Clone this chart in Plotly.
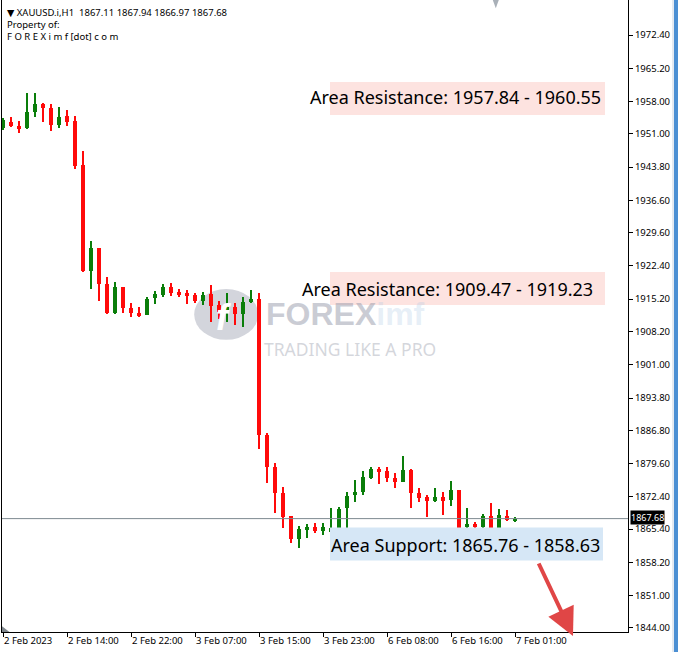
import plotly.graph_objects as go

# ---------------- data ----------------
bar_index = list(range(65))
opens = [1952.26, 1953.56, 1952.70, 1952.26, 1955.73, 1957.46, 1956.59, 1952.91, 1954.86, 1953.78,
         1944.25, 1921.30, 1926.28, 1918.48, 1912.20, 1917.83, 1913.29, 1912.20, 1911.77, 1915.45,
         1916.10, 1917.83, 1916.75, 1916.53, 1916.10, 1914.80, 1916.32, 1913.94, 1912.42, 1913.50,
         1911.99, 1914.59, 1915.24, 1885.79, 1878.86, 1873.23, 1868.25, 1863.26, 1865.43, 1865.86,
         1864.99, 1864.78, 1865.43, 1869.98, 1872.79, 1873.44, 1876.47, 1878.42, 1877.99, 1876.47,
         1875.61, 1878.21, 1873.23, 1872.37, 1871.50, 1872.37, 1871.72, 1873.88, 1865.86, 1866.51,
         1865.86, 1868.25, 1865.43, 1868.25, 1867.11]
highs = [1954.43, 1954.64, 1953.78, 1959.84, 1959.84, 1957.68, 1957.46, 1956.81, 1956.16, 1954.86,
         1947.28, 1927.79, 1926.28, 1920.00, 1918.92, 1917.83, 1914.37, 1913.50, 1915.67, 1916.97,
         1918.48, 1918.70, 1917.40, 1917.18, 1916.53, 1916.75, 1918.27, 1914.80, 1916.53, 1914.37,
         1915.67, 1917.18, 1916.53, 1886.22, 1879.72, 1874.53, 1868.25, 1866.08, 1866.51, 1866.73,
         1866.73, 1869.98, 1870.19, 1873.44, 1876.05, 1877.99, 1878.86, 1878.86, 1878.86, 1877.56,
         1881.24, 1878.42, 1874.31, 1872.79, 1874.31, 1873.44, 1875.82, 1873.88, 1869.98, 1866.94,
         1868.68, 1871.06, 1869.76, 1869.55, 1867.94]
lows = [1951.83, 1952.48, 1951.18, 1952.05, 1954.64, 1953.56, 1951.61, 1952.26, 1952.70, 1943.38,
        1921.08, 1917.40, 1914.80, 1911.99, 1911.99, 1912.20, 1911.34, 1911.34, 1911.77, 1914.15,
        1915.67, 1915.89, 1915.67, 1914.07, 1914.37, 1913.94, 1910.25, 1910.90, 1910.25, 1909.60,
        1909.17, 1914.37, 1882.76, 1875.39, 1868.90, 1865.65, 1862.40, 1861.32, 1863.48, 1864.57,
        1864.13, 1861.53, 1864.13, 1864.78, 1871.28, 1872.79, 1876.26, 1875.17, 1875.61, 1874.31,
        1875.61, 1869.98, 1871.28, 1868.03, 1871.28, 1868.46, 1870.41, 1864.13, 1864.78, 1863.05,
        1864.13, 1865.21, 1865.21, 1867.16, 1866.97]
closes = [1953.99, 1952.70, 1952.05, 1955.73, 1957.46, 1956.59, 1952.91, 1954.64, 1953.56, 1944.03,
          1921.30, 1926.28, 1918.48, 1912.20, 1917.83, 1913.29, 1912.20, 1911.77, 1915.24, 1916.32,
          1917.83, 1916.53, 1916.10, 1915.89, 1914.80, 1916.10, 1913.72, 1912.42, 1913.50, 1911.99,
          1914.59, 1915.24, 1885.79, 1878.86, 1873.23, 1868.03, 1863.26, 1865.43, 1865.86, 1864.99,
          1865.86, 1865.65, 1869.76, 1872.58, 1873.44, 1876.69, 1878.42, 1877.77, 1876.47, 1875.61,
          1878.21, 1873.23, 1872.15, 1871.50, 1872.37, 1871.50, 1873.88, 1865.65, 1866.51, 1865.86,
          1868.25, 1865.43, 1868.46, 1867.38, 1867.68]

x_tick_bars = [0, 8, 16, 24, 32, 40, 48, 56, 64]
x_tick_labels = ["2 Feb 2023", "2 Feb 14:00", "2 Feb 22:00", "3 Feb 07:00", "3 Feb 15:00",
                 "3 Feb 23:00", "6 Feb 08:00", "6 Feb 16:00", "7 Feb 01:00"]
y_tick_values = [1844.00, 1851.00, 1858.20, 1865.40, 1872.40, 1879.60, 1886.80, 1893.80, 1901.00,
                 1908.20, 1915.20, 1922.40, 1929.60, 1936.60, 1943.80, 1951.00, 1958.00, 1965.20,
                 1972.40]
y_tick_labels = ["%.2f" % v for v in y_tick_values]

last_price = 1867.68
resistance_1 = (1955.08, 1962.22, "Area Resistance: 1957.84 - 1960.55")
resistance_2 = (1913.93, 1921.08, "Area Resistance: 1909.47 - 1919.23")
support_1 = (1858.63, 1865.76, "Area Support: 1865.76 - 1858.63")

UP = "#0A7E0A"
DOWN = "#FF0A0A"
FONT = "Noto Sans, DejaVu Sans, sans-serif"

colors = [UP if c >= o else DOWN for o, c in zip(opens, closes)]

fig = go.Figure()

# wicks
fig.add_trace(go.Bar(
    x=bar_index, base=lows, y=[h - l for h, l in zip(highs, lows)],
    width=0.14, marker=dict(color=colors, line=dict(width=0)), hoverinfo="skip"))
# bodies
fig.add_trace(go.Bar(
    x=bar_index, base=[min(o, c) for o, c in zip(opens, closes)],
    y=[max(abs(c - o), 0.25) for o, c in zip(opens, closes)],
    width=0.62, marker=dict(color=colors, line=dict(width=0)), hoverinfo="skip"))

X0, X1 = -0.125, 78.125
Y0, Y1 = 1843.13, 1979.98

shapes = []
# watermark logo (below traces)
shapes.append(dict(type="circle", xref="x", yref="y", layer="below",
                   x0=23.9, x1=31.9, y0=1906.4, y1=1917.4,
                   fillcolor="#D3D5DC", line=dict(width=0)))
# resistance / support boxes
for (lo, hi, _), col in [(resistance_1, "#FDE3E0"), (resistance_2, "#FDE3E0")]:
    shapes.append(dict(type="rect", xref="x", yref="y", layer="below",
                       x0=40.875, x1=75.25, y0=lo, y1=hi,
                       fillcolor=col, line=dict(width=0)))
shapes.append(dict(type="rect", xref="x", yref="y", layer="above",
                   x0=40.875, x1=75.0, y0=support_1[0], y1=support_1[1],
                   fillcolor="#D6E7F6", line=dict(width=0)))
# current price line
shapes.append(dict(type="line", xref="paper", yref="y", x0=0, x1=1, y0=last_price, y1=last_price,
                   line=dict(color="#7D8A90", width=1)))
# window edge on the right
shapes.append(dict(type="rect", xref="paper", yref="paper", x0=1.0703, x1=1.0735, y0=-0.04, y1=1.0,
                   fillcolor="#E4EAF1", line=dict(width=0)))
shapes.append(dict(type="rect", xref="paper", yref="paper", x0=1.0735, x1=1.09, y0=-0.04, y1=1.0,
                   fillcolor="#4B8FD3", line=dict(width=0)))
# small gray markers
shapes.append(dict(type="path", xref="paper", yref="paper",
                   path="M 0.784 1 L 0.7936 1 L 0.7888 0.987 Z",
                   fillcolor="#A9B0B8", line=dict(width=0)))
shapes.append(dict(type="path", xref="paper", yref="paper",
                   path="M 0.0 0.0 L 0.012 0.0 L 0.0 0.009 Z",
                   fillcolor="#7F868C", line=dict(width=0)))

annotations = []
# header
annotations.append(dict(xref="paper", yref="paper", x=0.005, y=0.981, xanchor="left", yanchor="middle",
                        text="▼ XAUUSD.i,H1  1867.11 1867.94 1866.97 1867.68", showarrow=False,
                        font=dict(family=FONT, size=9.5, color="black")))
annotations.append(dict(xref="paper", yref="paper", x=0.005, y=0.9605, xanchor="left", yanchor="middle",
                        text="Property of:", showarrow=False,
                        font=dict(family=FONT, size=9.5, color="black")))
annotations.append(dict(xref="paper", yref="paper", x=0.005, y=0.9415, xanchor="left", yanchor="middle",
                        text="F O R E X i m f [dot] c o m", showarrow=False,
                        font=dict(family=FONT, size=9.5, color="black")))
# watermark text
annotations.append(dict(xref="x", yref="y", x=32.6, y=1911.9, xanchor="left", yanchor="middle",
                        text="<b>FOREX<span style='color:rgba(170,200,228,0.6)'>imf</span></b>",
                        showarrow=False,
                        font=dict(family="Liberation Sans, Arial, sans-serif", size=32,
                                  color="rgba(150,154,170,0.5)")))
annotations.append(dict(xref="x", yref="y", x=32.4, y=1904.4, xanchor="left", yanchor="middle",
                        text="TRADING LIKE A PRO", showarrow=False,
                        font=dict(family=FONT, size=17.5, color="rgba(170,174,185,0.5)")))
annotations.append(dict(xref="x", yref="y", x=27.6, y=1911.2, xanchor="center", yanchor="middle",
                        text="<b><i>f</i></b>", showarrow=False,
                        font=dict(family="Liberation Sans, sans-serif", size=36, color="white")))
# zone labels
annotations.append(dict(xref="x", yref="y", x=75.0, y=1958.98, xanchor="right", yanchor="middle",
                        text=resistance_1[2], showarrow=False,
                        font=dict(family=FONT, size=18, color="black")))
annotations.append(dict(xref="x", yref="y", x=74.0, y=1917.4, xanchor="right", yanchor="middle",
                        text=resistance_2[2], showarrow=False,
                        font=dict(family=FONT, size=18, color="black")))
annotations.append(dict(xref="x", yref="y", x=74.9, y=1861.97, xanchor="right", yanchor="middle",
                        text=support_1[2], showarrow=False,
                        font=dict(family=FONT, size=18, color="black")))
# arrow
annotations.append(dict(xref="x", yref="y", axref="x", ayref="y",
                        x=71.25, y=1842.26, ax=66.875, ay=1858.29, text="",
                        showarrow=True, arrowhead=2, arrowsize=1.4, arrowwidth=4,
                        arrowcolor="#E04646", standoff=0))
# current price label
annotations.append(dict(xref="paper", yref="y", x=1.0, y=last_price, xanchor="left", yanchor="middle",
                        xshift=2, yshift=1, text="1867.68", showarrow=False, bgcolor="black",
                        borderpad=0, font=dict(family=FONT, size=9, color="white")))

fig.update_layout(
    width=678, height=652,
    margin=dict(l=2, r=50, t=0, b=20),
    plot_bgcolor="white", paper_bgcolor="white",
    showlegend=False, barmode="overlay", bargap=0,
    shapes=shapes, annotations=annotations,
    xaxis=dict(range=[X0, X1], tickvals=x_tick_bars, ticktext=x_tick_labels,
               ticks="outside", ticklen=4, tickcolor="black", tickwidth=1,
               ticklabelposition="outside right",
               showline=True, linecolor="black", linewidth=1, mirror=True,
               showgrid=False, zeroline=False,
               tickfont=dict(family=FONT, size=9.5, color="black")),
    yaxis=dict(range=[Y0, Y1], side="right", tickvals=y_tick_values, ticktext=y_tick_labels,
               ticks="outside", ticklen=4, tickcolor="black", tickwidth=1,
               showline=True, linecolor="black", linewidth=1, mirror=True,
               showgrid=False, zeroline=False,
               tickfont=dict(family=FONT, size=9.5, color="black")),
)

fig.write_html("out.html",
               config={"displayModeBar": False},
               post_script="document.body.style.margin='0';document.body.style.padding='0';"
                           "document.body.style.overflow='hidden';")
